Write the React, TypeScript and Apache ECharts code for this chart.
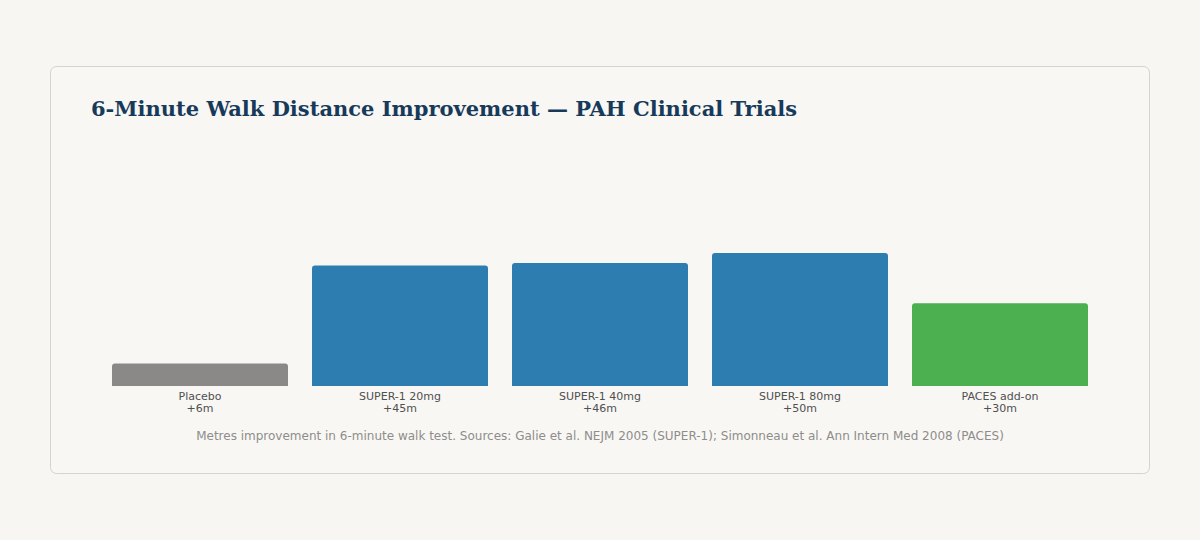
import React, { useEffect, useRef } from 'react';
import * as echarts from 'echarts';

// 6MWD improvement by trial arm (metres)
const categories = ['Placebo', 'SUPER-1 20mg', 'SUPER-1 40mg', 'SUPER-1 80mg', 'PACES add-on'];
const improvements = [6, 45, 46, 50, 30];
const barColors = ['#8a8987', '#2e7db0', '#2e7db0', '#2e7db0', '#4caf50'];

const titleText = '6-Minute Walk Distance Improvement \u2014 PAH Clinical Trials';
const footnote =
  'Metres improvement in 6-minute walk test. Sources: Galie et al. NEJM 2005 (SUPER-1); Simonneau et al. Ann Intern Med 2008 (PACES)';

export default function App() {
  const chartRef = useRef<HTMLDivElement>(null);

  useEffect(() => {
    if (!chartRef.current) return;
    const chart = echarts.init(chartRef.current, undefined, { renderer: 'svg' });

    const option: echarts.EChartsOption = {
      animation: false,
      backgroundColor: '#f7f6f3',
      title: {
        text: titleText,
        left: 86,
        top: 93,
        textStyle: {
          fontFamily: 'DejaVu Serif',
          fontWeight: 'bold',
          fontSize: 21,
          color: '#173a5a'
        }
      },
      graphic: [
        {
          type: 'rect',
          z: -10,
          shape: { x: 50.5, y: 66.5, width: 1099, height: 407, r: 6 },
          style: { fill: '#f8f7f4', stroke: '#d6d3ce', lineWidth: 1 }
        },
        {
          type: 'text',
          x: 600,
          y: 436,
          style: {
            text: footnote,
            align: 'center',
            verticalAlign: 'middle',
            fontFamily: 'DejaVu Sans',
            fontSize: 12,
            fill: '#8e8d8b'
          }
        }
      ],
      grid: {
        left: 100,
        right: 100,
        top: 140,
        bottom: 154
      },
      xAxis: {
        type: 'category',
        data: categories,
        axisLine: { show: false },
        axisTick: { show: false },
        axisLabel: {
          margin: 4,
          interval: 0,
          fontFamily: 'DejaVu Sans',
          fontSize: 11,
          lineHeight: 12,
          color: '#505050',
          formatter: (name: string, idx: number) => `${name}\n+${improvements[idx]}m`
        }
      },
      yAxis: {
        type: 'value',
        min: -3,
        max: 95,
        startValue: -3,
        show: false,
        splitLine: { show: false }
      } as any,
      series: [
        {
          type: 'bar',
          barCategoryGap: '12%',
          data: improvements.map((v, i) => ({
            value: v,
            itemStyle: { color: barColors[i], borderRadius: [3, 3, 0, 0] }
          }))
        }
      ]
    };

    chart.setOption(option);
    return () => {
      chart.dispose();
    };
  }, []);

  return (
    <div style={{ position: 'fixed', left: 0, top: 0, width: 1200, height: 540 }}>
      <div ref={chartRef} style={{ width: 1200, height: 540 }} />
    </div>
  );
}
